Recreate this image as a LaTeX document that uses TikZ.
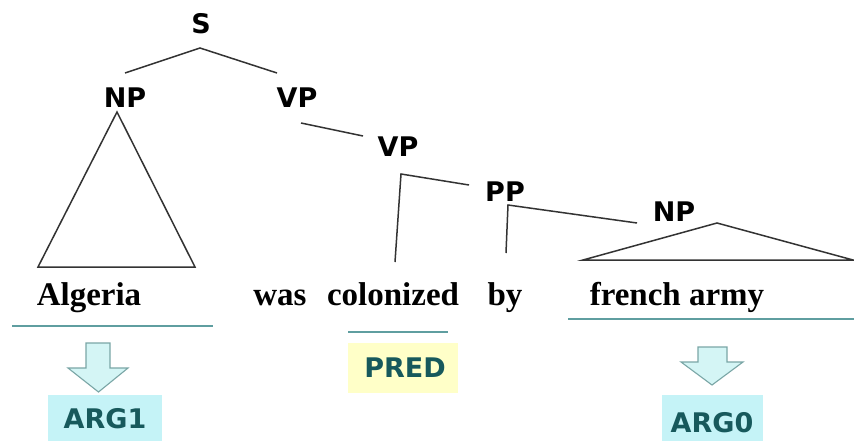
\documentclass[tikz,border=0pt]{standalone}
\usepackage{fontspec}
\setmainfont{Liberation Serif}
\newfontfamily\labfont{DejaVu Sans}
\definecolor{arrowfill}{HTML}{D4F5F5}
\definecolor{arrowline}{HTML}{7AA6A6}
\definecolor{argfill}{HTML}{C5F3F7}
\definecolor{argtext}{HTML}{17595C}
\definecolor{predfill}{HTML}{FFFFC8}
\definecolor{ulcol}{HTML}{5F9EA0}
\begin{document}
\begin{tikzpicture}[x=1pt,y=-1pt,
  cat/.style={font=\labfont\bfseries\fontsize{27}{27}\selectfont, inner sep=0pt},
  word/.style={font=\bfseries\fontsize{33}{33}\selectfont, inner sep=0pt, anchor=base},
  treeline/.style={draw=black!80, line width=1.5pt},
  uline/.style={draw=ulcol, line width=1.6pt},
  rolebox/.style={font=\labfont\bfseries\fontsize{27}{27}\selectfont, text=argtext, inner sep=0pt},
  bigarrow/.style={fill=arrowfill, draw=arrowline, line width=1.1pt, line join=miter}
]
\useasboundingbox[fill=white] (0,0) rectangle (854,441);

% category labels
\node[cat] (S) at (201,24) {S};
\node[cat] (NP1) at (125,98) {NP};
\node[cat] (VP1) at (297,98) {VP};
\node[cat] (VP2) at (398,147) {VP};
\node[cat] (PP) at (505,192) {PP};
\node[cat] (NP2) at (674,212) {NP};

% tree coordinates
\coordinate (sa) at (200,48);
\coordinate (sl) at (125,73);
\coordinate (sr) at (277,73);
\coordinate (npt) at (117,112);
\coordinate (npbl) at (38,267);
\coordinate (npbr) at (195,267);
\coordinate (vpa) at (301,123);
\coordinate (vpb) at (363,136);
\coordinate (vpc) at (401,174);
\coordinate (vpd) at (395,262);
\coordinate (vpr) at (469,185);
\coordinate (ppc) at (508,205);
\coordinate (ppd) at (506,253);
\coordinate (ppr) at (637,223);
\coordinate (nt) at (717,223);
\coordinate (nbl) at (583,260);
\coordinate (nbr) at (853,260);

\draw[treeline] (sl) -- (sa) -- (sr);
\draw[treeline] (npbl) -- (npt) -- (npbr) -- cycle;
\draw[treeline] (vpa) -- (vpb);
\draw[treeline] (vpd) -- (vpc) -- (vpr);
\draw[treeline] (ppd) -- (ppc) -- (ppr);
\draw[treeline] (nbl) -- (nt) -- (nbr) -- cycle;

% words
\node[word] (w1) at (89,305) {Algeria};
\node[word] (w2) at (280,305) {was};
\node[word] (w3) at (393,305) {colonized};
\node[word] (w4) at (505,305) {by};
\node[word] (w5) at (677,305) {french army};

% underlines
\coordinate (u1a) at (12,326); \coordinate (u1b) at (213,326);
\coordinate (u2a) at (348,332); \coordinate (u2b) at (448,332);
\coordinate (u3a) at (568,319); \coordinate (u3b) at (854,319);
\draw[uline] (u1a) -- (u1b);
\draw[uline] (u2a) -- (u2b);
\draw[uline] (u3a) -- (u3b);

% block arrows
\draw[bigarrow] (86,343) -- (110,343) -- (110,368) -- (128,368) -- (98.5,392) -- (68,368) -- (86,368) -- cycle;
\draw[bigarrow] (698,347) -- (727,347) -- (727,362) -- (743,362) -- (712,385) -- (681,362) -- (698,362) -- cycle;

% role boxes
\fill[argfill] (48,395) rectangle (162,441);
\fill[argfill] (662,395) rectangle (763,441);
\fill[predfill] (348,343) rectangle (458,393);
\node[rolebox] (arg1) at (105,419) {ARG1};
\node[rolebox] (arg0) at (712,423) {ARG0};
\node[rolebox] (pred) at (405,368) {PRED};
\end{tikzpicture}
\end{document}
